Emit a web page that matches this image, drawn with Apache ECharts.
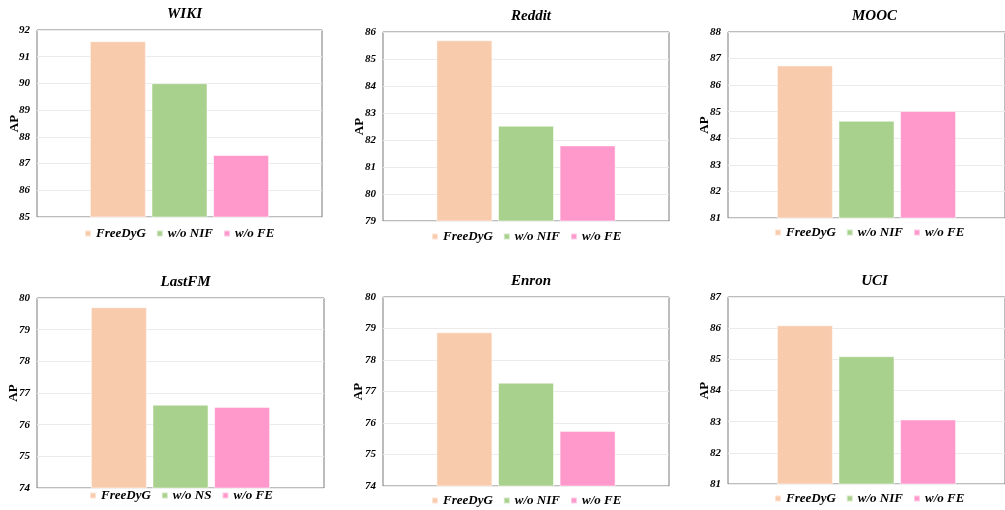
<!DOCTYPE html>
<html>
<head>
<meta charset="utf-8">
<script src="https://cdn.jsdelivr.net/npm/echarts@6/dist/echarts.min.js"></script>
<style>html,body{margin:0;padding:0;background:#fff;}#c{width:1005px;height:510px;}</style>
</head>
<body>
<div id="c"></div>
<script>
var titles = ['WIKI', 'Reddit', 'MOOC', 'LastFM', 'Enron', 'UCI'];
var seriesNames = ['FreeDyG', 'w/o NIF', 'w/o FE'];
var secondNames = ['w/o NIF', 'w/o NIF', 'w/o NIF', 'w/o NS', 'w/o NIF', 'w/o NIF'];
var freeDyG = [91.58, 85.69, 86.74, 79.71, 78.88, 86.09];
var woNIF   = [90.01, 82.53, 84.66, 76.63, 77.28, 85.10];
var woFE    = [87.32, 81.80, 85.03, 76.56, 75.75, 83.07];
var yMin = [85, 79, 81, 74, 74, 81];
var yMax = [92, 86, 88, 80, 80, 87];
var yLabel = 'AP';

var colors = ['#F8CBAD', '#A9D18E', '#FF99CC'];
var serif = '"Liberation Serif", "Times New Roman", serif';

// layout per panel: [left, top, width, height, titleTop, legendTop, nameGap]
var layout = [
  [37, 30, 285, 187, 2, 227, 16],
  [383, 32, 286, 189, 4, 230, 17],
  [728, 32, 283, 186, 4, 226, 17],
  [37, 298, 287, 190, 270, 489, 17],
  [383, 297, 286, 189, 269, 494, 18],
  [728, 297, 283, 187, 269, 492, 17]
];

var option = {
  animation: false,
  backgroundColor: '#fff',
  title: [], grid: [], xAxis: [], yAxis: [], legend: [], series: []
};

titles.forEach(function (t, i) {
  var L = layout[i];
  var cx = L[0] + L[2] / 2;
  var names = [seriesNames[0], secondNames[i], seriesNames[2]];
  var vals = [freeDyG[i], woNIF[i], woFE[i]];
  option.title.push({
    text: t, left: cx, top: L[4], textAlign: 'center',
    textStyle: { fontFamily: serif, fontSize: 15, fontWeight: 'bold', fontStyle: 'italic', color: '#000' }
  });
  option.grid.push({
    left: L[0], top: L[1], width: L[2], height: L[3],
    show: true, borderColor: '#7a7a7a', borderWidth: 1, backgroundColor: 'transparent'
  });
  option.xAxis.push({
    type: 'category', gridIndex: i, data: [''],
    axisLine: { show: false }, axisTick: { show: false }, axisLabel: { show: false }
  });
  option.yAxis.push({
    type: 'value', gridIndex: i, min: yMin[i], max: yMax[i], interval: 1,
    name: yLabel, nameLocation: 'middle', nameGap: L[6], nameMoveOverlap: false,
    nameTextStyle: { fontFamily: serif, fontSize: 13, fontWeight: 'bold', color: '#000' },
    axisLine: { show: false }, axisTick: { show: false },
    axisLabel: { margin: 7, fontFamily: serif, fontSize: 11, fontWeight: 'bold', fontStyle: 'italic', color: '#000' },
    splitLine: { show: true, lineStyle: { color: '#ebebeb', width: 1 } }
  });
  option.legend.push({
    data: names, left: L[0], top: L[5], padding: 0,
    icon: 'rect', itemWidth: 6, itemHeight: 6, itemGap: 10,
    textStyle: { fontFamily: serif, fontSize: 13, fontWeight: 'bold', fontStyle: 'italic', color: '#000' },
    selectedMode: false
  });
  names.forEach(function (n, k) {
    option.series.push({
      type: 'bar', name: n, xAxisIndex: i, yAxisIndex: i,
      data: [vals[k]], barWidth: 56, barGap: '10%',
      itemStyle: { color: colors[k], borderColor: 'rgba(255,255,255,0.5)', borderWidth: 1 },
      emphasis: { disabled: true }
    });
  });
});

var chart = echarts.init(document.getElementById('c'), null, { renderer: 'canvas' });
chart.setOption(option);
// center each legend horizontally on its panel
var upd = [];
titles.forEach(function (t, i) {
  var L = layout[i];
  var cx = L[0] + L[2] / 2;
  var lm = chart.getModel().getComponent('legend', i);
  var view = chart.getViewOfComponentModel(lm);
  var w = view && view.group ? view.group.getBoundingRect().width : 186;
  upd.push({ left: Math.round(cx - w / 2) });
});
chart.setOption({ legend: upd });
</script>
</body>
</html>
